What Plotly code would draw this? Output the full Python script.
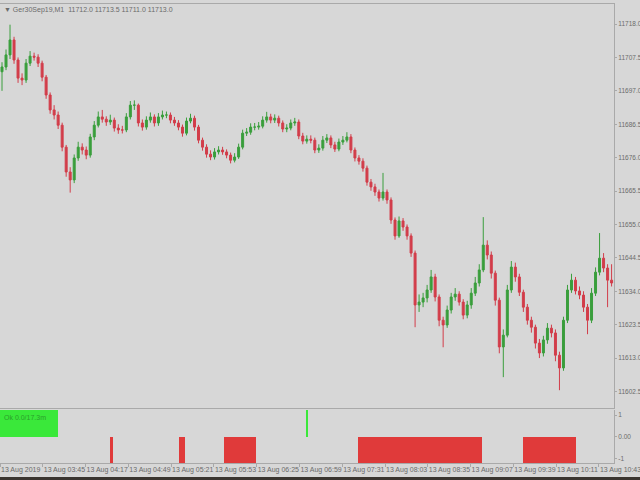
import plotly.graph_objects as go

# ---- data (3-minute candles) ----
open_ = [11703.0, 11704.5, 11708.3, 11713.0, 11706.7, 11701.0, 11700.4, 11705.7, 11707.9, 11707.6,
         11705.7, 11701.3, 11695.7, 11691.0, 11689.4, 11686.2, 11679.3, 11671.5, 11669.0, 11675.9,
         11679.3, 11678.4, 11676.8, 11682.5, 11686.2, 11688.8, 11688.1, 11687.2, 11687.8, 11685.3,
         11684.7, 11684.7, 11688.8, 11692.5, 11692.5, 11686.9, 11685.6, 11687.8, 11688.8, 11686.9,
         11688.8, 11689.4, 11689.4, 11687.8, 11686.9, 11685.6, 11683.7, 11687.5, 11688.4, 11685.6,
         11681.5, 11679.3, 11677.1, 11676.2, 11677.8, 11678.4, 11677.8, 11676.8, 11675.2, 11676.2,
         11679.3, 11683.7, 11684.0, 11685.6, 11685.6, 11685.9, 11687.8, 11688.8, 11687.8, 11688.4,
         11686.9, 11685.0, 11685.3, 11686.9, 11687.2, 11682.8, 11681.2, 11681.8, 11681.5, 11678.4,
         11679.0, 11681.5, 11682.2, 11680.0, 11678.7, 11680.9, 11681.5, 11682.5, 11678.4, 11675.9,
         11674.9, 11672.7, 11668.3, 11666.8, 11665.2, 11663.3, 11665.2, 11662.7, 11656.4, 11651.4,
         11656.1, 11654.2, 11651.4, 11646.0, 11629.7, 11630.6, 11631.9, 11634.4, 11638.5, 11632.2,
         11624.9, 11623.4, 11628.1, 11632.2, 11633.1, 11630.6, 11626.5, 11629.7, 11633.4, 11636.6,
         11640.7, 11648.5, 11645.4, 11639.7, 11631.2, 11616.5, 11620.2, 11634.4, 11641.6, 11638.5,
         11633.7, 11629.0, 11624.9, 11622.7, 11617.7, 11614.6, 11618.7, 11622.4, 11620.9, 11613.9,
         11609.9, 11624.9, 11634.4, 11637.5, 11634.1, 11632.8, 11629.0, 11624.9, 11633.4, 11640.0,
         11644.4, 11641.3, 11637.5]
high = [11706.0, 11710.0, 11717.8, 11714.0, 11707.5, 11702.5, 11707.0, 11709.5, 11709.0, 11708.5,
        11706.5, 11702.0, 11696.5, 11692.5, 11690.5, 11687.0, 11680.0, 11673.0, 11677.0, 11681.0,
        11680.5, 11679.5, 11683.5, 11687.5, 11690.5, 11691.0, 11689.0, 11689.5, 11688.6, 11686.5,
        11686.0, 11690.0, 11693.8, 11694.0, 11693.0, 11688.0, 11689.0, 11690.2, 11689.6, 11690.0,
        11690.8, 11690.5, 11690.2, 11688.8, 11687.8, 11686.4, 11688.6, 11689.8, 11689.2, 11686.3,
        11682.3, 11680.2, 11678.3, 11679.0, 11679.6, 11679.4, 11678.6, 11677.6, 11677.4, 11680.4,
        11684.8, 11685.3, 11686.8, 11686.9, 11687.2, 11689.0, 11690.4, 11689.8, 11689.6, 11689.2,
        11687.7, 11686.5, 11688.0, 11688.5, 11688.0, 11683.8, 11683.0, 11683.0, 11682.3, 11680.2,
        11682.8, 11683.4, 11683.0, 11681.0, 11682.0, 11682.8, 11684.0, 11683.4, 11679.2, 11676.8,
        11675.8, 11673.5, 11669.3, 11667.8, 11666.0, 11671.2, 11666.0, 11663.5, 11657.2, 11657.5,
        11657.0, 11655.0, 11652.2, 11646.8, 11633.0, 11633.5, 11636.0, 11640.7, 11639.5, 11633.0,
        11626.0, 11629.5, 11633.5, 11635.0, 11634.0, 11631.5, 11631.0, 11635.0, 11638.5, 11642.5,
        11657.3, 11650.0, 11646.5, 11640.5, 11632.0, 11622.0, 11636.0, 11643.5, 11643.0, 11639.5,
        11634.5, 11630.0, 11626.0, 11623.5, 11619.0, 11620.0, 11624.0, 11623.5, 11622.0, 11615.0,
        11626.0, 11636.0, 11639.5, 11638.5, 11635.5, 11634.0, 11630.0, 11635.0, 11641.5, 11652.3,
        11646.0, 11642.5, 11642.5]
low = [11697.0, 11703.5, 11707.0, 11705.5, 11699.5, 11698.8, 11699.5, 11704.8, 11706.5, 11704.5,
       11700.0, 11694.5, 11689.8, 11688.0, 11685.0, 11678.0, 11670.0, 11665.0, 11668.0, 11675.0,
       11677.0, 11675.5, 11676.0, 11681.5, 11685.5, 11687.0, 11686.0, 11686.3, 11684.2, 11683.5,
       11683.6, 11684.0, 11688.0, 11691.0, 11685.8, 11684.5, 11684.8, 11687.0, 11685.8, 11686.0,
       11688.0, 11688.4, 11686.8, 11686.0, 11684.6, 11682.6, 11683.0, 11686.8, 11684.5, 11680.5,
       11678.2, 11676.0, 11675.2, 11675.4, 11677.0, 11676.9, 11675.8, 11674.2, 11674.5, 11675.6,
       11678.6, 11682.8, 11683.2, 11684.6, 11684.8, 11685.2, 11687.0, 11686.8, 11686.9, 11685.8,
       11684.0, 11684.0, 11684.6, 11686.0, 11681.8, 11680.2, 11680.4, 11680.5, 11677.4, 11677.5,
       11678.2, 11680.6, 11679.0, 11677.8, 11678.0, 11680.0, 11680.8, 11677.4, 11674.8, 11673.8,
       11671.6, 11667.2, 11665.6, 11664.0, 11662.2, 11662.5, 11661.5, 11655.2, 11650.2, 11650.8,
       11653.0, 11650.2, 11644.8, 11622.7, 11627.5, 11629.0, 11630.5, 11633.5, 11630.8, 11623.0,
       11616.4, 11622.5, 11627.0, 11631.0, 11629.5, 11625.2, 11625.5, 11628.5, 11632.5, 11635.5,
       11640.0, 11644.0, 11638.0, 11629.5, 11614.5, 11607.0, 11619.5, 11633.5, 11637.0, 11632.5,
       11627.5, 11623.5, 11621.0, 11616.0, 11613.0, 11613.5, 11617.5, 11619.5, 11612.0, 11602.9,
       11609.0, 11624.0, 11633.5, 11633.0, 11631.5, 11627.5, 11620.5, 11624.0, 11632.5, 11639.0,
       11640.0, 11629.0, 11635.5]
close = [11704.5, 11708.3, 11713.0, 11706.7, 11701.0, 11700.4, 11705.7, 11707.9, 11707.6, 11705.7,
         11701.3, 11695.7, 11691.0, 11689.4, 11686.2, 11679.3, 11671.5, 11669.0, 11675.9, 11679.3,
         11678.4, 11676.8, 11682.5, 11686.2, 11688.8, 11688.1, 11687.2, 11687.8, 11685.3, 11684.7,
         11684.7, 11688.8, 11692.5, 11692.5, 11686.9, 11685.6, 11687.8, 11688.8, 11686.9, 11688.8,
         11689.4, 11689.4, 11687.8, 11686.9, 11685.6, 11683.7, 11687.5, 11688.4, 11685.6, 11681.5,
         11679.3, 11677.1, 11676.2, 11677.8, 11678.4, 11677.8, 11676.8, 11675.2, 11676.2, 11679.3,
         11683.7, 11684.0, 11685.6, 11685.6, 11685.9, 11687.8, 11688.8, 11687.8, 11688.4, 11686.9,
         11685.0, 11685.3, 11686.9, 11687.2, 11682.8, 11681.2, 11681.8, 11681.5, 11678.4, 11679.0,
         11681.5, 11682.2, 11680.0, 11678.7, 11680.9, 11681.5, 11682.5, 11678.4, 11675.9, 11674.9,
         11672.7, 11668.3, 11666.8, 11665.2, 11663.3, 11665.2, 11662.7, 11656.4, 11651.4, 11656.1,
         11654.2, 11651.4, 11646.0, 11629.7, 11630.6, 11631.9, 11634.4, 11638.5, 11632.2, 11624.9,
         11623.4, 11628.1, 11632.2, 11633.1, 11630.6, 11626.5, 11629.7, 11633.4, 11636.6, 11640.7,
         11648.5, 11645.4, 11639.7, 11631.2, 11616.5, 11620.2, 11634.4, 11641.6, 11638.5, 11633.7,
         11629.0, 11624.9, 11622.7, 11617.7, 11614.6, 11618.7, 11622.4, 11620.9, 11613.9, 11609.9,
         11624.9, 11634.4, 11637.5, 11634.1, 11632.8, 11629.0, 11624.9, 11633.4, 11640.0, 11644.4,
         11641.3, 11637.5, 11636.6]

# indicator segments (minutes from 03:13) and their signal values
sig_start = [0.0, 229.0, 82.3, 133.9, 167.5, 267.8, 391.2]
sig_end = [43.4, 230.6, 84.5, 138.4, 191.5, 360.5, 430.8]
sig_val = [1.3, 1.3, -1.3, -1.3, -1.3, -1.3, -1.3]

time_labels = ["13 Aug 2019", "13 Aug 03:45", "13 Aug 04:17", "13 Aug 04:49", "13 Aug 05:21",
               "13 Aug 05:53", "13 Aug 06:25", "13 Aug 06:59", "13 Aug 07:31", "13 Aug 08:03",
               "13 Aug 08:35", "13 Aug 09:07", "13 Aug 09:39", "13 Aug 10:11", "13 Aug 10:43"]
price_ticks = [11718.0, 11707.5, 11697.0, 11686.5, 11676.0, 11665.5, 11655.0,
               11644.5, 11634.0, 11623.5, 11613.0, 11602.5]
ind_ticks = [1, 0, -1]
ind_tick_text = ["1", "0.00", "-1"]

BAR_MIN = 3
x = [BAR_MIN * i + BAR_MIN / 2 for i in range(len(close))]
tick_pos = [32 * k for k in range(len(time_labels))]

BG = "#d7d7d7"
AX = "#a9a9a9"
TXT = "#6b6b6b"
FONT = "Liberation Sans Narrow, Liberation Sans, DejaVu Sans"

fig = go.Figure()
fig.add_trace(go.Candlestick(
    x=x, open=open_, high=high, low=low, close=close,
    xaxis="x2", yaxis="y2",
    increasing=dict(line=dict(color="#3a9e3c", width=1), fillcolor="#3a9e3c"),
    decreasing=dict(line=dict(color="#d23d4a", width=1), fillcolor="#d23d4a"),
    whiskerwidth=0, showlegend=False, hoverinfo="skip",
))

colors = ["#3ae83a" if v > 0 else "#e03a3a" for v in sig_val]
fig.add_trace(go.Bar(
    x=[(s + e) / 2 for s, e in zip(sig_start, sig_end)],
    y=sig_val,
    width=[e - s for s, e in zip(sig_start, sig_end)],
    base=0, marker=dict(color=colors, line=dict(width=0)),
    xaxis="x", yaxis="y", showlegend=False, hoverinfo="skip",
))

XR = [0, 459.3]
tf = dict(size=7, color=TXT, family=FONT)
tfy = dict(size=6.5, color=TXT, family=FONT)
fig.update_layout(
    width=640, height=480,
    margin=dict(l=0, r=26, t=4, b=17, autoexpand=False),
    paper_bgcolor=BG, plot_bgcolor=BG,
    font=dict(family=FONT, size=7, color=TXT),
    bargap=0,
    xaxis=dict(domain=[0, 1], range=XR, tickvals=tick_pos, ticktext=time_labels,
               ticklabelposition="outside right", ticklabeloverflow="allow",
               ticks="outside", ticklen=3, tickcolor=AX,
               tickangle=0, automargin=False,
               showgrid=False, zeroline=False, showline=True, linecolor=AX, mirror=False,
               tickfont=tf, anchor="y"),
    yaxis=dict(domain=[0, 0.1155], range=[-1.2, 1.23], side="right",
               tickvals=ind_ticks, ticktext=ind_tick_text, ticks="outside", ticklen=2,
               tickcolor=AX, showgrid=False, zeroline=False, showline=True, linecolor=AX,
               mirror=True, tickfont=tfy, anchor="x", automargin=False,
               ticklabeloverflow="allow"),
    xaxis2=dict(domain=[0, 1], range=XR, matches="x", showticklabels=False,
                showgrid=False, zeroline=False, showline=True, linecolor=AX, mirror=True,
                rangeslider=dict(visible=False), anchor="y2", ticks="", automargin=False),
    yaxis2=dict(domain=[0.1198, 1], range=[11597.3, 11724.3], side="right",
                tickvals=price_ticks, ticktext=[f"{v:.1f}" for v in price_ticks],
                ticks="outside", ticklen=2, tickcolor=AX, showgrid=False, zeroline=False,
                showline=True, linecolor=AX, mirror=True,
                tickfont=tfy, anchor="x2", automargin=False, ticklabeloverflow="allow"),
)

fig.add_annotation(xref="paper", yref="paper", x=0.004, y=1.0, xanchor="left", yanchor="top",
                   text="\u25bc Ger30Sep19,M1  11712.0 11713.5 11711.0 11713.0",
                   showarrow=False, font=tf)
fig.add_annotation(xref="paper", yref="paper", x=0.004, y=0.112, xanchor="left", yanchor="top",
                   text="Ok 0.0/17.3m", showarrow=False,
                   font=dict(size=7, color="#2aa02a", family=FONT))
fig.add_shape(type="rect", xref="paper", yref="paper", x0=0, x1=1.05, y0=-0.0305, y1=-0.04,
              fillcolor="#3a3530", line=dict(width=0), layer="above")

fig.write_html("out.html", config={"displayModeBar": False},
               post_script="document.body.style.margin='0';document.body.style.background='#d7d7d7';")
